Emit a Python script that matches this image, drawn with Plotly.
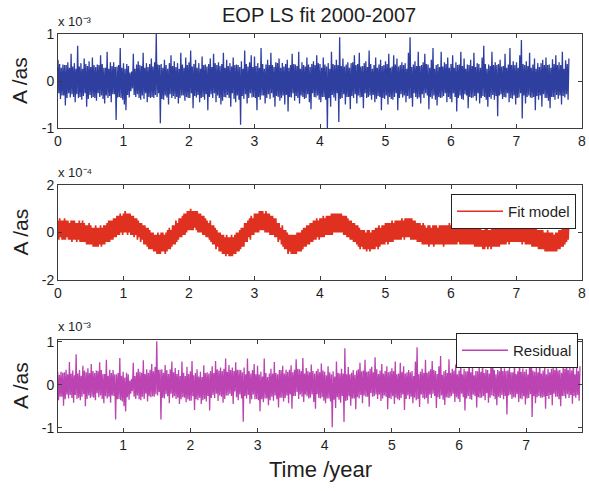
import numpy as np
import plotly.graph_objects as go

# ---------------- data ----------------
STEP_YEARS = 0.0125         # sampling step of the series, in years
SCALE = 1e-5                # values below are in units of 1e-5 as

# observed EOP signal (units of 1e-5 as), 40 samples per half year
eop_1e5 = [
    45, -26, 36, -38, 28, -31, 35, -31, 34, -52, 34, -36, 40, -26, 28, -35, 58, -28, 31, -34,
    38, -45, 26, -28, 75, -36, 31, -34, 38, -40, 26, -32, 48, -26, 36, -55, 32, -38, 42, -30,
    30, -36, 50, -34, 34, -36, 30, -42, 35, -26, 34, -34, 55, -31, 36, -38, 28, -48, 28, -31,
    62, -36, 26, -32, 40, -45, 32, -28, 40, -28, 30, -83, 31, -35, 34, -34, 70, -36, 28, -40,
    38, -50, 26, -62, 36, -30, 32, -35, 18, -22, 20, -16, 58, -30, 26, -34, 35, -28, 42, -36,
    34, -40, 32, -31, 60, -38, 28, -26, 38, -45, 30, -34, 36, -36, 48, -34, 31, -36, 40, -30,
    100, -34, 35, -26, 34, -90, 36, -38, 28, -40, 45, -31, 34, -35, 26, -50, 38, -28, 55, -36,
    32, -32, 42, -38, 30, -34, 38, -48, 26, -36, 60, -31, 35, -31, 28, -42, 50, -34, 34, -36,
    40, -36, 65, -26, 31, -58, 36, -32, 45, -35, 28, -30, 38, -45, 26, -36, 52, -34, 34, -40,
    35, -28, 31, -62, 36, -34, 48, -28, 30, -36, 58, -26, 38, -45, 34, -31, 40, -36, 32, -50,
    36, -42, 60, -34, 28, -35, 45, -30, 32, -36, 38, -55, 31, -26, 50, -38, 34, -45, 35, -31,
    34, -40, 30, -93, 42, -32, 26, -38, 65, -28, 36, -48, 31, -36, 40, -26, 55, -35, 30, -34,
    52, -36, 32, -62, 38, -34, 28, -40, 70, -31, 36, -31, 26, -48, 35, -36, 45, -28, 34, -38,
    60, -26, 34, -35, 30, -55, 40, -32, 38, -34, 48, -42, 28, -36, 38, -31, 31, -50, 36, -30,
    45, -65, 28, -34, 34, -35, 58, -26, 36, -42, 35, -32, 32, -36, 62, -48, 26, -31, 40, -34,
    34, -38, 31, -36, 50, -28, 35, -45, 30, -60, 36, -26, 42, -34, 34, -35, 55, -31, 38, -40,
    36, -45, 28, -34, 50, -34, 35, -40, 31, -100, 38, -36, 26, -55, 62, -30, 36, -35, 34, -42,
    45, -26, 34, -87, 93, -38, 32, -36, 48, -28, 31, -50, 35, -34, 40, -34, 28, -60, 38, -32,
    40, -36, 55, -28, 34, -48, 36, -31, 60, -35, 31, -34, 32, -58, 38, -26, 42, -36, 30, -34,
    65, -31, 36, -40, 26, -30, 34, -45, 50, -38, 28, -32, 35, -34, 45, -62, 32, -36, 34, -38,
    42, -31, 36, -50, 58, -34, 28, -38, 31, -40, 55, -34, 35, -26, 48, -62, 31, -36, 34, -28,
    40, -35, 34, -31, 38, -45, 26, -32, 60, -38, 93, -36, 30, -55, 35, -26, 42, -34, 32, -38,
    62, -35, 32, -48, 34, -28, 40, -36, 58, -26, 36, -31, 35, -60, 28, -34, 45, -38, 70, -31,
    26, -40, 34, -52, 36, -34, 30, -36, 62, -35, 31, -32, 40, -26, 36, -45, 50, -34, 28, -38,
    36, -45, 55, -26, 28, -34, 40, -65, 34, -36, 35, -31, 62, -38, 32, -40, 48, -28, 26, -31,
    35, -58, 34, -34, 45, -36, 32, -35, 60, -32, 30, -42, 38, -26, 36, -48, 28, -36, 50, -32,
    75, -34, 36, -40, 26, -55, 35, -34, 32, -38, 62, -30, 34, -40, 40, -32, 34, -75, 36, -31,
    45, -28, 31, -38, 32, -34, 58, -35, 28, -26, 35, -45, 70, -36, 34, -38, 42, -31, 34, -50,
    40, -36, 28, -35, 55, -26, 87, -80, 36, -31, 34, -48, 42, -34, 32, -31, 60, -35, 28, -36,
    35, -34, 48, -62, 26, -32, 38, -40, 30, -31, 38, -55, 45, -28, 34, -36, 50, -36, 34, -42,
    35, -58, 28, -34, 46, -34, 36, -40, 55, -30, 34, -38, 40, -31, 34, -50, 62, -32, 26, -35,
    44, -28, 36, -40, 48,
]

# least-squares fit model (units of 1e-5 as), 40 samples per half year
fit_1e5 = [
    5, -3, 6, -2, 5, -3, 5, -3, 6, -3, 5, -2, 5, -3, 4, -3, 5, -4, 5, -3,
    5, -3, 4, -4, 4, -3, 5, -4, 4, -4, 5, -4, 4, -4, 3, -5, 3, -5, 4, -5,
    3, -5, 2, -6, 2, -6, 3, -6, 2, -6, 2, -5, 3, -6, 2, -5, 3, -5, 3, -4,
    4, -4, 5, -4, 5, -3, 5, -3, 6, -2, 6, -2, 7, -1, 7, -1, 8, 0, 7, -1,
    8, 0, 9, 0, 8, -1, 8, 0, 8, -1, 7, -1, 7, -2, 6, -1, 6, -3, 5, -2,
    4, -4, 4, -3, 3, -5, 3, -5, 2, -6, 2, -7, 1, -7, 0, -7, 0, -8, -1, -8,
    -1, -9, 0, -9, -1, -9, 0, -8, 0, -8, -1, -9, 0, -8, 1, -7, 2, -7, 1, -6,
    3, -5, 3, -5, 5, -4, 4, -3, 6, -2, 6, -2, 7, -1, 8, -1, 8, 0, 9, 1,
    9, 1, 10, 1, 9, 1, 9, 2, 9, 1, 9, 0, 8, 0, 8, 0, 7, -1, 7, -1,
    6, -2, 5, -2, 4, -3, 5, -4, 3, -5, 3, -5, 2, -7, 1, -6, 0, -8, 0, -8,
    -1, -9, -1, -9, -2, -10, -1, -9, -2, -10, -2, -10, -1, -10, -2, -9, -1, -9, 0, -8,
    0, -8, 1, -7, 2, -6, 2, -6, 4, -4, 4, -4, 5, -2, 6, -3, 7, -1, 6, -1,
    8, 0, 8, 0, 8, 0, 9, 1, 9, 1, 9, 1, 8, 0, 9, 0, 8, 0, 8, -1,
    7, -1, 7, -1, 6, -2, 6, -2, 4, -4, 4, -3, 2, -5, 3, -6, 1, -7, 1, -7,
    0, -9, -1, -8, -1, -9, -1, -9, -1, -9, -1, -9, 0, -8, 0, -8, 0, -8, 1, -7,
    2, -6, 2, -6, 3, -5, 3, -5, 4, -4, 4, -4, 5, -3, 5, -3, 6, -2, 5, -3,
    6, -2, 6, -2, 7, -2, 6, -1, 7, -1, 7, -1, 7, -1, 8, -1, 8, 0, 8, 0,
    8, 0, 8, 0, 8, 0, 8, 0, 7, -1, 7, -1, 7, -2, 6, -2, 5, -3, 5, -3,
    4, -4, 4, -4, 3, -5, 3, -6, 2, -7, 1, -6, 1, -7, 1, -7, 0, -8, 1, -7,
    1, -8, 0, -7, 1, -7, 1, -7, 2, -6, 2, -7, 3, -6, 2, -5, 3, -5, 3, -5,
    4, -4, 4, -5, 4, -4, 4, -4, 5, -4, 4, -3, 5, -3, 5, -3, 5, -3, 5, -3,
    6, -2, 5, -3, 6, -2, 6, -2, 6, -2, 6, -3, 6, -3, 5, -3, 5, -3, 4, -4,
    4, -4, 4, -4, 3, -5, 4, -5, 3, -5, 2, -5, 3, -6, 3, -5, 2, -5, 3, -6,
    3, -5, 3, -5, 2, -5, 3, -5, 3, -5, 3, -6, 3, -5, 3, -5, 3, -5, 4, -5,
    3, -5, 3, -5, 4, -5, 3, -5, 3, -4, 4, -5, 3, -5, 3, -5, 3, -5, 4, -5,
    3, -5, 3, -5, 3, -5, 2, -5, 2, -6, 3, -6, 2, -6, 2, -6, 2, -6, 1, -7,
    1, -7, 2, -6, 2, -7, 1, -6, 1, -7, 2, -6, 2, -6, 2, -6, 2, -6, 3, -6,
    3, -5, 2, -5, 3, -5, 3, -5, 3, -4, 4, -5, 4, -4, 4, -4, 4, -4, 4, -4,
    4, -4, 4, -4, 4, -4, 3, -5, 3, -4, 4, -5, 3, -5, 3, -5, 3, -5, 2, -6,
    2, -6, 2, -6, 2, -6, 1, -7, 1, -7, 1, -7, 1, -7, 0, -8, 0, -8, 1, -8,
    0, -8, 0, -8, 0, -8, -1, -8, 0, -8, 0, -7, 1, -7, 1, -6, 2, -6, 2, -5,
    3, -4, 4, -3, 5,
]

x_ticks_full = [0, 1, 2, 3, 4, 5, 6, 7, 8]
x_ticks_res = [1, 2, 3, 4, 5, 6, 7]
y_ticks_top = [-1e-3, 0, 1e-3]
y_ticks_mid = [-2e-4, 0, 2e-4]
y_ticks_bot = [-1e-3, 0, 1e-3]
y_text_top = ["-1", "0", "1"]
y_text_mid = ["-2", "0", "2"]
y_text_bot = ["-1", "0", "1"]

n = min(len(eop_1e5), len(fit_1e5))
years = np.arange(n) * STEP_YEARS
eop = np.array(eop_1e5[:n]) * SCALE
fit = np.array(fit_1e5[:n]) * SCALE
residual = eop - fit          # residual = observation - fit model

# ---------------- layout helpers ----------------
W, H = 589, 491
FONT = "Liberation Sans, Arial, Helvetica, sans-serif"
AXC = "#3c3c3c"
TXT = "#1e1e1e"


def dx(l, r):
    return [l / W, r / W]


def dy(top, bottom):
    return [(H - bottom) / H, (H - top) / H]


def px_x(p):
    return p / W


def px_y(p):
    return (H - p) / H


BLUE = "#2f3f9f"
RED = "#e0301f"
MAG = "#bb44b2"

fig = go.Figure()
fig.add_trace(go.Scatter(x=years, y=eop, mode="lines",
                         line=dict(color=BLUE, width=1.3, simplify=False),
                         showlegend=False, xaxis="x", yaxis="y"))
fig.add_trace(go.Scatter(x=years, y=fit, mode="lines",
                         line=dict(color=RED, width=1.7, simplify=False),
                         name="Fit model", showlegend=True, legend="legend",
                         xaxis="x2", yaxis="y2"))
fig.add_trace(go.Scatter(x=years, y=residual, mode="lines",
                         line=dict(color=MAG, width=1.3, simplify=False),
                         name="Residual", showlegend=True, legend="legend2",
                         xaxis="x3", yaxis="y3"))

common = dict(showgrid=False, zeroline=False, showline=True, mirror="ticks",
              linecolor=AXC, linewidth=1, ticks="inside", ticklen=4, tickcolor=AXC,
              ticklabeloverflow="allow", automargin=False,
              tickfont=dict(family=FONT, size=14, color=TXT), fixedrange=True)

XD = dx(58, 582)
fig.update_layout(
    width=W, height=H,
    margin=dict(l=0, r=0, t=0, b=0, autoexpand=False),
    paper_bgcolor="white", plot_bgcolor="white",
    font=dict(family=FONT, color=TXT),
    xaxis=dict(domain=XD, anchor="y", range=[-1e-6, 8 + 1e-6], tickvals=x_ticks_full, **common),
    yaxis=dict(domain=dy(34, 128), anchor="x", range=[-1e-3, 1e-3],
               tickvals=y_ticks_top, ticktext=y_text_top, **common),
    xaxis2=dict(domain=XD, anchor="y2", range=[-1e-6, 8 + 1e-6], tickvals=x_ticks_full, **common),
    yaxis2=dict(domain=dy(185, 280), anchor="x2", range=[-2e-4, 2e-4],
                tickvals=y_ticks_mid, ticktext=y_text_mid, **common),
    xaxis3=dict(domain=XD, anchor="y3", range=[0.03, 7.83], tickvals=x_ticks_res, **common),
    yaxis3=dict(domain=dy(340, 432), anchor="x3", range=[-1.1e-3, 1.04e-3],
                tickvals=y_ticks_bot, ticktext=y_text_bot, **common),
    legend=dict(x=px_x(576), y=px_y(194), xanchor="right", yanchor="top",
                bgcolor="white", bordercolor="#222", borderwidth=1, itemwidth=46,
                font=dict(family=FONT, size=15, color=TXT)),
    legend2=dict(x=px_x(578), y=px_y(333), xanchor="right", yanchor="top",
                 bgcolor="white", bordercolor="#222", borderwidth=1, itemwidth=46,
                 font=dict(family=FONT, size=15, color=TXT)),
)

ann = []
ann.append(dict(text="EOP LS fit 2000-2007", x=px_x(319), y=px_y(15), xref="paper", yref="paper",
                xanchor="center", yanchor="middle", showarrow=False,
                font=dict(family=FONT, size=20, color=TXT)))
ann.append(dict(text="Time /year", x=px_x(320), y=px_y(469), xref="paper", yref="paper",
                xanchor="center", yanchor="middle", showarrow=False,
                font=dict(family=FONT, size=22, color=TXT)))
for top, bot in [(34, 128), (185, 280), (340, 432)]:
    ann.append(dict(text="A /as", x=px_x(20), y=px_y((top + bot) / 2), xref="paper", yref="paper",
                    xanchor="center", yanchor="middle", textangle=-90, showarrow=False,
                    font=dict(family=FONT, size=21, color=TXT)))
for txt, ybot in [("x 10⁻³", 31), ("x 10⁻⁴", 182), ("x 10⁻³", 336)]:
    ann.append(dict(text=txt, x=px_x(56), y=px_y(ybot), xref="paper", yref="paper",
                    xanchor="left", yanchor="bottom", showarrow=False,
                    font=dict(family=FONT, size=13, color=TXT)))
fig.update_layout(annotations=ann)

fig.write_html("out.html", config={"displayModeBar": False},
               post_script="document.body.style.margin='0';"
                           "document.documentElement.style.overflow='hidden';")
